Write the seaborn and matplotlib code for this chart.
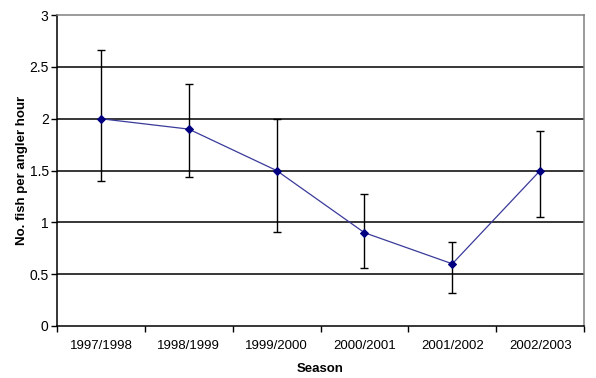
import matplotlib
matplotlib.use("Agg")
import matplotlib.pyplot as plt
import numpy as np
import pandas as pd
import seaborn as sns

seasons = ["1997/1998", "1998/1999", "1999/2000", "2000/2001", "2001/2002", "2002/2003"]
catch_rate = [2.0, 1.9, 1.5, 0.9, 0.6, 1.5]
upper = [2.66, 2.34, 2.0, 1.27, 0.81, 1.88]
lower = [1.40, 1.44, 0.91, 0.56, 0.32, 1.05]

sns.set_style("white")
plt.rcParams["font.family"] = ["Liberation Sans", "DejaVu Sans"]
plt.rcParams["text.color"] = "black"
plt.rcParams["axes.labelcolor"] = "black"
plt.rcParams["xtick.color"] = "black"
plt.rcParams["ytick.color"] = "black"

df = pd.DataFrame({"season": seasons, "rate": catch_rate})
xpos = np.arange(len(seasons))

fig = plt.figure(figsize=(5.96, 3.78), dpi=100)
ax = fig.add_axes([0.0956, 0.1376, 0.8844, 0.8224])

# horizontal gridlines
for yv in np.arange(0.5, 3.0, 0.5):
    ax.axhline(yv, color="black", lw=1.1, zorder=1)

err = [np.array(catch_rate) - np.array(lower), np.array(upper) - np.array(catch_rate)]
ax.errorbar(xpos, catch_rate, yerr=err, fmt="none", ecolor="black",
            elinewidth=1.0, capsize=2.6, capthick=1.0, zorder=2)

sns.lineplot(x=xpos, y=df["rate"], ax=ax, color="#3a3a9a", lw=0.9,
             marker="D", markersize=4.5, markerfacecolor="#000080",
             markeredgecolor="#000080", zorder=3)

ax.set_xlim(-0.5, len(seasons) - 0.5)
ax.set_ylim(0, 3)
ax.set_yticks(np.arange(0, 3.01, 0.5))
ax.set_yticklabels(["0", "0.5", "1", "1.5", "2", "2.5", "3"], fontsize=10)
ax.set_xticks(xpos)
ax.set_xticklabels(seasons, fontsize=9.5)
ax.set_xticks(np.arange(-0.5, len(seasons), 1.0), minor=True)
ax.tick_params(axis="x", which="major", bottom=True, length=0, pad=10)
ax.tick_params(axis="x", which="minor", bottom=True, length=4, width=1,
               color="black", direction="out")
ax.tick_params(axis="y", left=True, length=4, width=1, color="black",
               direction="out", pad=2)

for side in ["left", "bottom"]:
    ax.spines[side].set_color("black")
    ax.spines[side].set_linewidth(1.1)
for side in ["top", "right"]:
    ax.spines[side].set_color("#808080")
    ax.spines[side].set_linewidth(1.1)

ax.set_xlabel("Season", fontsize=9.5, fontweight="bold", labelpad=8)
ax.set_ylabel("No. fish per angler hour", fontsize=9.5, fontweight="bold", labelpad=4)
ax.yaxis.set_label_coords(-0.055, 0.5)

fig.savefig("out.png", dpi=100)
